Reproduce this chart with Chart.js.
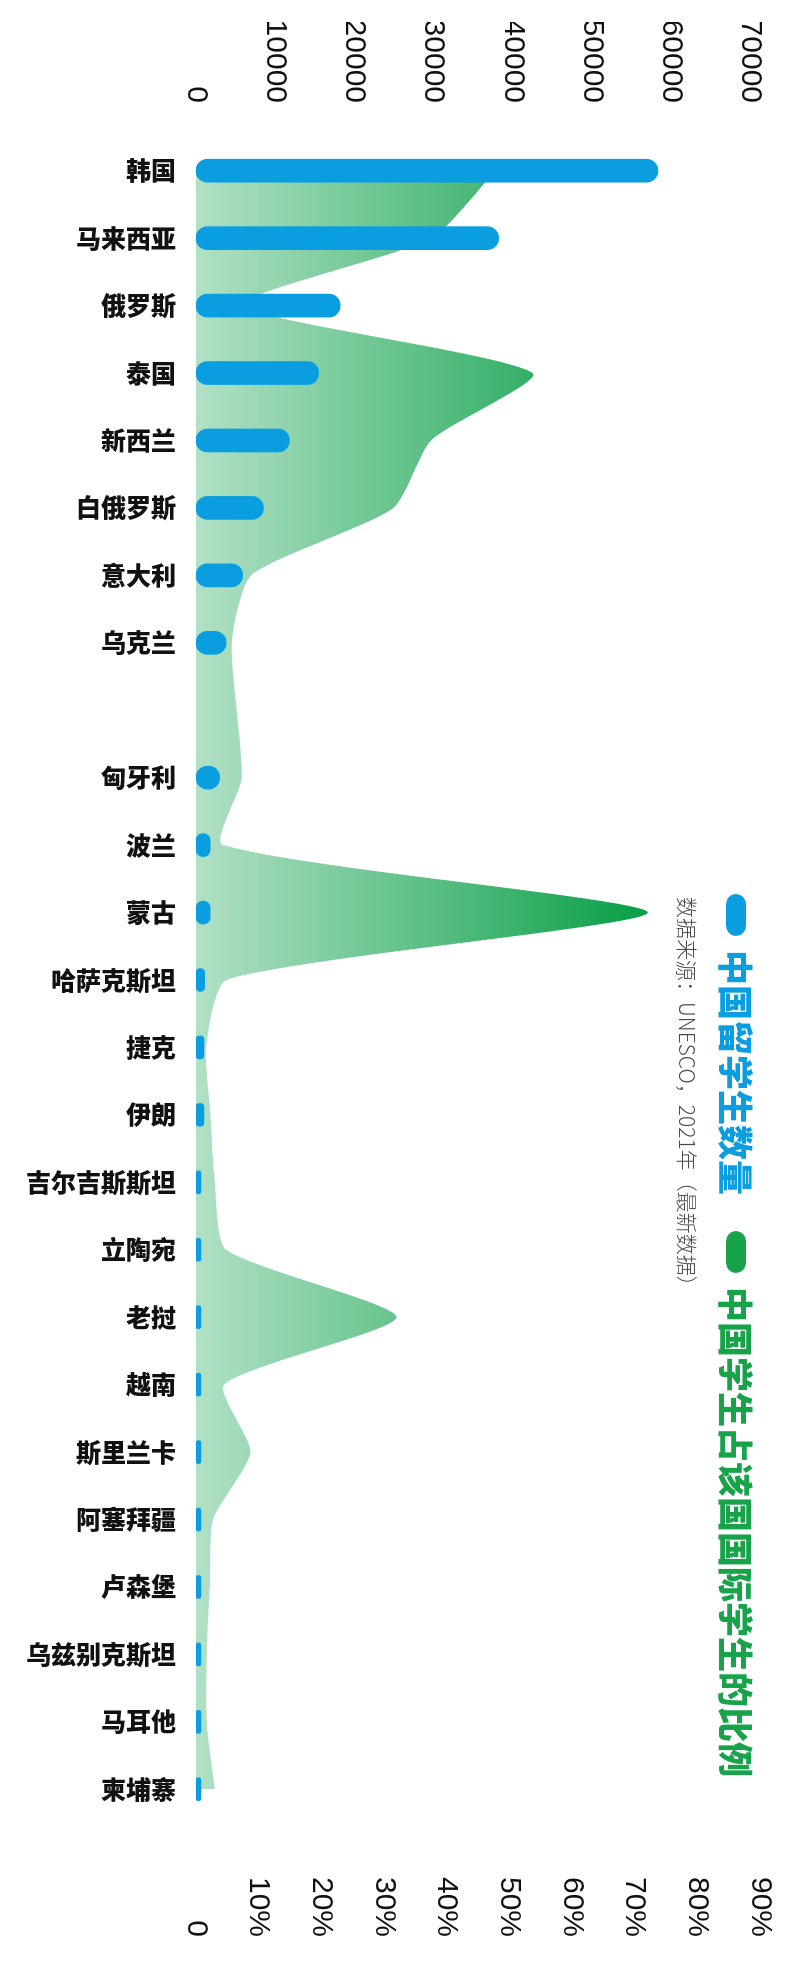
<!DOCTYPE html>
<html lang="zh-CN">
<head>
<meta charset="utf-8">
<title>中国留学生数量</title>
<script src="https://cdn.jsdelivr.net/npm/chart.js@4.4.1/dist/chart.umd.min.js"></script>
<style>
  html, body { margin: 0; padding: 0; background: #fff; overflow: hidden; }
  body { width: 800px; height: 1969px; position: relative; }
  /* chart is laid out landscape, then turned a quarter clockwise */
  #turn {
    position: absolute; left: 0; top: 0;
    width: 1969px; height: 800px;
    transform-origin: 0 0;
    transform: translate(800px, 0) rotate(90deg);
  }
  #turn canvas { display: block; }
</style>
</head>
<body>
<div id="turn"><canvas id="studentsChart" width="1969" height="800"></canvas></div>
<script>
// '' is the empty slot between 乌克兰 and 匈牙利
const countries = ['韩国', '马来西亚', '俄罗斯', '泰国', '新西兰', '白俄罗斯', '意大利', '乌克兰', '',
    '匈牙利', '波兰', '蒙古', '哈萨克斯坦', '捷克', '伊朗', '吉尔吉斯斯坦', '立陶宛', '老挝', '越南',
    '斯里兰卡', '阿塞拜疆', '卢森堡', '乌兹别克斯坦', '马耳他', '柬埔寨'];
const studentCounts = [58300, 38200, 18200, 15500, 11800, 8500, 5900, 3800, null,
    3000, 1800, 1800, 1100, 1000, 1000, 450, 450, 450, 400, 400, 350, 350, 350, 300, 300];
const shareOfIntl = [47.8, 37.6, 7.4, 53.7, 37.5, 31.5, 8.8, 5.7, null,
    7.3, 4.3, 72.1, 4.9, 1.6, 2.3, 3.0, 4.8, 32.0, 4.5, 8.7, 2.7, 2.2, 1.7, 1.7, 3.0];
const countTicks = [0, 10000, 20000, 30000, 40000, 50000, 60000, 70000];
const shareTicks = [0, 10, 20, 30, 40, 50, 60, 70, 80, 90];

const legendItems = [
    { text: '中国留学生数量', color: '#0a9ee0' },
    { text: '中国学生占该国国际学生的比例', color: '#18a24a' }
];
const sourceNote = '数据来源：UNESCO，2021年（最新数据）';

const BLUE = '#0a9ee0';
const CJK = '"Noto Sans CJK SC", "Noto Sans", sans-serif';
const LATIN = '"Liberation Sans", Arial, sans-serif';

class StudentsChart {
    constructor(canvas) {
        this.canvas = canvas;
        this.chart = new Chart(canvas, {
            data: { labels: countries, datasets: this.buildDatasets() },
            options: this.buildOptions(),
            plugins: [this.legendPlugin()]
        });
    }

    buildDatasets() {
        return [{
            type: 'bar',
            label: legendItems[0].text,
            data: studentCounts,
            yAxisID: 'count',
            backgroundColor: BLUE,
            barThickness: 23,
            borderRadius: 12,
            borderSkipped: false,
            minBarLength: 5,
            order: 1
        }, {
            type: 'line',
            label: legendItems[1].text,
            data: shareOfIntl,
            yAxisID: 'share',
            fill: 'origin',
            spanGaps: true,
            tension: 0.2,
            borderWidth: 0,
            pointRadius: 0,
            backgroundColor: (ctx) => this.shareGradient(ctx.chart),
            order: 2
        }];
    }

    shareGradient(chart) {
        const { ctx, chartArea, scales } = chart;
        if (!chartArea) return '#7fcf9f';
        const y0 = scales.share.getPixelForValue(0);
        const y1 = scales.share.getPixelForValue(75);
        const g = ctx.createLinearGradient(0, y0, 0, y1);
        g.addColorStop(0, '#b1e1c5');
        g.addColorStop(0.45, '#63c28a');
        g.addColorStop(1, '#019b41');
        return g;
    }

    // value axes: tick marks are hidden, tickLength only spaces the labels
    valueAxis(position, max, labels, gap, format) {
        return {
            type: 'linear',
            position: position,
            min: 0,
            max: max,
            grid: { display: false, drawTicks: true, tickLength: gap },
            border: { display: false },
            afterBuildTicks: (scale) => { scale.ticks = labels.map((v) => ({ value: v })); },
            ticks: {
                autoSkip: false,
                padding: 0,
                crossAlign: position === 'right' ? 'far' : 'near',
                color: '#111',
                font: { family: LATIN, size: 30 },
                callback: (v) => format(v)
            },
            afterFit: (scale) => { scale.width = position === 'right' ? 114 : 115; }
        };
    }

    buildOptions() {
        return {
            responsive: false,
            animation: false,
            events: [],
            layout: { padding: { left: 22, right: 32, top: 40, bottom: 0 } },
            plugins: { legend: { display: false }, tooltip: { enabled: false } },
            scales: {
                x: {
                    type: 'category',
                    grid: { display: false, drawTicks: false },
                    border: { display: false },
                    ticks: {
                        autoSkip: false,
                        maxRotation: 90,
                        minRotation: 90,
                        padding: 20,
                        color: '#111',
                        font: { family: CJK, size: 25, weight: '900' }
                    },
                    afterFit: (scale) => { scale.height = 196; }
                },
                count: this.valueAxis('left', 71200, countTicks, 34, (v) => String(v)),
                share: this.valueAxis('right', 90, shareTicks, 56, (v) => v === 0 ? '0' : v + '%')
            }
        };
    }

    legendPlugin() {
        return {
            id: 'turnedLegend',
            afterDraw(chart) {
                const ctx = chart.ctx;
                ctx.save();
                let x = 894;
                const y = 64;
                ctx.textBaseline = 'middle';
                ctx.textAlign = 'left';
                ctx.font = `900 35px ${CJK}`;
                legendItems.forEach((item) => {
                    ctx.fillStyle = item.color;
                    ctx.beginPath();
                    ctx.roundRect(x, y - 10, 42, 20, 10);
                    ctx.fill();
                    x += 56;
                    ctx.fillText(item.text, x, y + 1);
                    x += ctx.measureText(item.text).width + 36;
                });

                ctx.fillStyle = '#4d4d4d';
                ctx.font = `300 21px ${CJK}`;
                ctx.fillText(sourceNote, 897, 113);
                ctx.restore();
            }
        };
    }
}

window.studentsChart = new StudentsChart(document.getElementById('studentsChart'));
</script>
</body>
</html>
